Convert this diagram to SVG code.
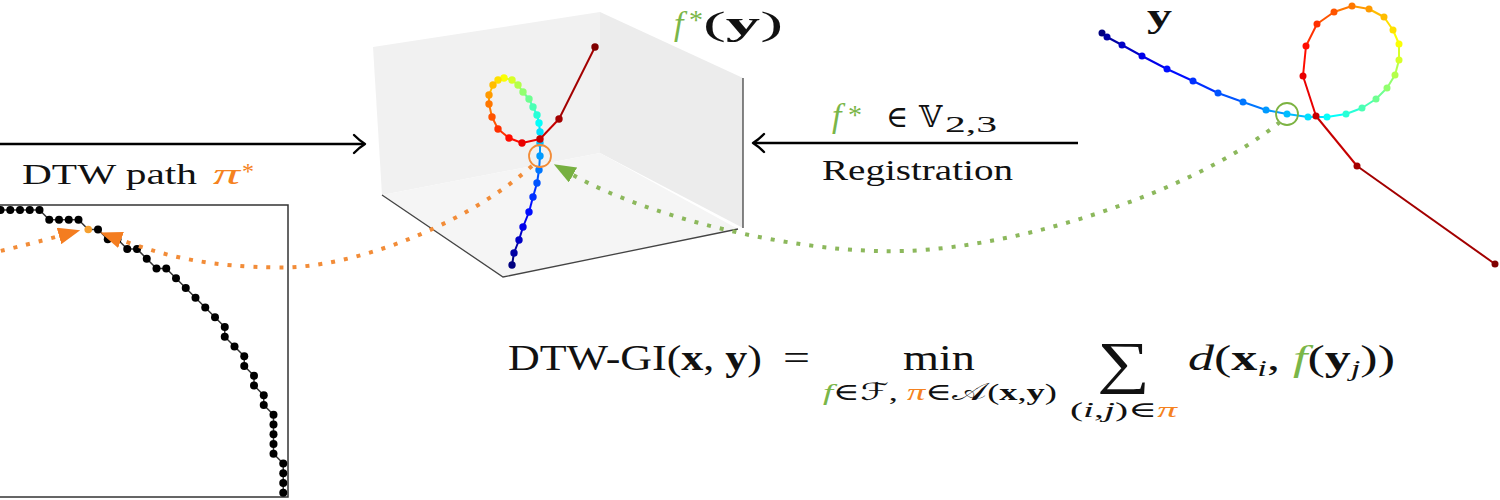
<svg xmlns="http://www.w3.org/2000/svg" width="1500" height="500" viewBox="0 0 1500 500">
<defs>
<style>
text{font-family:"Liberation Serif","DejaVu Serif","DejaVu Sans",serif;fill:#111}
.g{fill:#7ab648}
.o{fill:#f58220}
.it{font-style:italic}
.b{font-weight:bold}
.arr{stroke:#000;stroke-width:2.6;fill:none}
.head{stroke:#000;stroke-width:2.4;fill:none;stroke-linecap:round;stroke-linejoin:round}
.dotO{stroke:#f28c38;stroke-width:4;stroke-dasharray:4 9;fill:none}
.dotG{stroke:#8cb85c;stroke-width:4;stroke-dasharray:4 9;fill:none}
.seg{stroke-width:2;fill:none}
.bd{fill:#000}
.axis{stroke:#444;stroke-width:1.3;fill:none}
</style>
<marker id="ahO" markerUnits="userSpaceOnUse" viewBox="0 0 22 17" markerWidth="22" markerHeight="17" refX="0" refY="8.5" orient="auto"><path d="M0,0 L22,8.5 L0,17 Z" fill="#f47d20"/></marker>
<marker id="ahG" markerUnits="userSpaceOnUse" viewBox="0 0 22 17" markerWidth="22" markerHeight="17" refX="0" refY="8.5" orient="auto"><path d="M0,0 L22,8.5 L0,17 Z" fill="#77b041"/></marker>
</defs>

<g id="box3d">
<polygon points="373,47 600,12 600,153 382,195" fill="#f1f1f1"/>
<polygon points="600,12 743,78 743,228 600,153" fill="#ececec"/>
<polygon points="382,195 600,153 738,229 503,277" fill="#f5f5f5"/>
<polyline class="axis" points="382,195 503,277 738,229"/>
<line class="axis" x1="743" y1="78" x2="743" y2="228"/>
<g id="curve3d">
<line class="seg" x1="512" y1="265" x2="514" y2="253" stroke="#000080"/>
<line class="seg" x1="514" y1="253" x2="519" y2="240" stroke="#0000a3"/>
<line class="seg" x1="519" y1="240" x2="523" y2="227" stroke="#0000c6"/>
<line class="seg" x1="523" y1="227" x2="529" y2="212" stroke="#0000e9"/>
<line class="seg" x1="529" y1="212" x2="533" y2="197" stroke="#000dff"/>
<line class="seg" x1="533" y1="197" x2="537" y2="183" stroke="#0030ff"/>
<line class="seg" x1="537" y1="183" x2="539" y2="170" stroke="#0054ff"/>
<line class="seg" x1="539" y1="170" x2="540" y2="156" stroke="#0077ff"/>
<line class="seg" x1="540" y1="156" x2="540" y2="143" stroke="#009aff"/>
<line class="seg" x1="540" y1="143" x2="540" y2="132" stroke="#00bdff"/>
<line class="seg" x1="540" y1="132" x2="539" y2="123" stroke="#00e0ff"/>
<line class="seg" x1="539" y1="123" x2="537" y2="115" stroke="#04fffb"/>
<line class="seg" x1="537" y1="115" x2="533" y2="107" stroke="#28ffd7"/>
<line class="seg" x1="533" y1="107" x2="529" y2="99" stroke="#4bffb4"/>
<line class="seg" x1="529" y1="99" x2="523" y2="92" stroke="#6eff91"/>
<line class="seg" x1="523" y1="92" x2="518" y2="85" stroke="#91ff6e"/>
<line class="seg" x1="518" y1="85" x2="512" y2="80" stroke="#b4ff4b"/>
<line class="seg" x1="512" y1="80" x2="504" y2="78" stroke="#d7ff28"/>
<line class="seg" x1="504" y1="78" x2="498" y2="80" stroke="#fbff04"/>
<line class="seg" x1="498" y1="80" x2="493" y2="85" stroke="#ffe000"/>
<line class="seg" x1="493" y1="85" x2="489" y2="95" stroke="#ffbd00"/>
<line class="seg" x1="489" y1="95" x2="489" y2="104" stroke="#ff9a00"/>
<line class="seg" x1="489" y1="104" x2="492" y2="117" stroke="#ff7700"/>
<line class="seg" x1="492" y1="117" x2="498" y2="129" stroke="#ff5400"/>
<line class="seg" x1="498" y1="129" x2="509" y2="138" stroke="#ff3000"/>
<line class="seg" x1="509" y1="138" x2="522" y2="143" stroke="#ff0d00"/>
<line class="seg" x1="522" y1="143" x2="540" y2="139" stroke="#e90000"/>
<line class="seg" x1="540" y1="139" x2="559" y2="119" stroke="#c60000"/>
<line class="seg" x1="559" y1="119" x2="595" y2="47" stroke="#a30000"/>
<circle cx="512" cy="265" r="3.7" fill="#000080"/>
<circle cx="514" cy="253" r="3.7" fill="#0000a3"/>
<circle cx="519" cy="240" r="3.7" fill="#0000c6"/>
<circle cx="523" cy="227" r="3.7" fill="#0000e9"/>
<circle cx="529" cy="212" r="3.7" fill="#000dff"/>
<circle cx="533" cy="197" r="3.7" fill="#0030ff"/>
<circle cx="537" cy="183" r="3.7" fill="#0054ff"/>
<circle cx="539" cy="170" r="3.7" fill="#0077ff"/>
<circle cx="540" cy="156" r="3.7" fill="#009aff"/>
<circle cx="540" cy="143" r="3.7" fill="#00bdff"/>
<circle cx="540" cy="132" r="3.7" fill="#00e0ff"/>
<circle cx="539" cy="123" r="3.7" fill="#04fffb"/>
<circle cx="537" cy="115" r="3.7" fill="#28ffd7"/>
<circle cx="533" cy="107" r="3.7" fill="#4bffb4"/>
<circle cx="529" cy="99" r="3.7" fill="#6eff91"/>
<circle cx="523" cy="92" r="3.7" fill="#91ff6e"/>
<circle cx="518" cy="85" r="3.7" fill="#b4ff4b"/>
<circle cx="512" cy="80" r="3.7" fill="#d7ff28"/>
<circle cx="504" cy="78" r="3.7" fill="#fbff04"/>
<circle cx="498" cy="80" r="3.7" fill="#ffe000"/>
<circle cx="493" cy="85" r="3.7" fill="#ffbd00"/>
<circle cx="489" cy="95" r="3.7" fill="#ff9a00"/>
<circle cx="489" cy="104" r="3.7" fill="#ff7700"/>
<circle cx="492" cy="117" r="3.7" fill="#ff5400"/>
<circle cx="498" cy="129" r="3.7" fill="#ff3000"/>
<circle cx="509" cy="138" r="3.7" fill="#ff0d00"/>
<circle cx="522" cy="143" r="3.7" fill="#e90000"/>
<circle cx="540" cy="139" r="3.7" fill="#c60000"/>
<circle cx="559" cy="119" r="3.7" fill="#a30000"/>
<circle cx="595" cy="47" r="3.7" fill="#800000"/>
</g>
<circle cx="540" cy="156" r="11" fill="none" stroke="#f28c38" stroke-width="1.8"/>
</g>

<g id="curve-y">
<line class="seg" x1="1102" y1="33" x2="1107" y2="37" stroke="#000080"/>
<line class="seg" x1="1107" y1="37" x2="1122" y2="45" stroke="#0000a3"/>
<line class="seg" x1="1122" y1="45" x2="1142" y2="56" stroke="#0000c6"/>
<line class="seg" x1="1142" y1="56" x2="1167" y2="69" stroke="#0000e9"/>
<line class="seg" x1="1167" y1="69" x2="1193" y2="81" stroke="#000dff"/>
<line class="seg" x1="1193" y1="81" x2="1218" y2="93" stroke="#0030ff"/>
<line class="seg" x1="1218" y1="93" x2="1243" y2="102" stroke="#0054ff"/>
<line class="seg" x1="1243" y1="102" x2="1266" y2="110" stroke="#0077ff"/>
<line class="seg" x1="1266" y1="110" x2="1287" y2="114" stroke="#009aff"/>
<line class="seg" x1="1287" y1="114" x2="1308" y2="117" stroke="#00bdff"/>
<line class="seg" x1="1308" y1="117" x2="1327" y2="117" stroke="#00e0ff"/>
<line class="seg" x1="1327" y1="117" x2="1346" y2="114" stroke="#04fffb"/>
<line class="seg" x1="1346" y1="114" x2="1362" y2="108" stroke="#28ffd7"/>
<line class="seg" x1="1362" y1="108" x2="1376" y2="99" stroke="#4bffb4"/>
<line class="seg" x1="1376" y1="99" x2="1387" y2="88" stroke="#6eff91"/>
<line class="seg" x1="1387" y1="88" x2="1395" y2="75" stroke="#91ff6e"/>
<line class="seg" x1="1395" y1="75" x2="1399" y2="60" stroke="#b4ff4b"/>
<line class="seg" x1="1399" y1="60" x2="1399" y2="44" stroke="#d7ff28"/>
<line class="seg" x1="1399" y1="44" x2="1393" y2="30" stroke="#fbff04"/>
<line class="seg" x1="1393" y1="30" x2="1384" y2="17" stroke="#ffe000"/>
<line class="seg" x1="1384" y1="17" x2="1369" y2="9" stroke="#ffbd00"/>
<line class="seg" x1="1369" y1="9" x2="1352" y2="6" stroke="#ff9a00"/>
<line class="seg" x1="1352" y1="6" x2="1334" y2="12" stroke="#ff7700"/>
<line class="seg" x1="1334" y1="12" x2="1317" y2="24" stroke="#ff5400"/>
<line class="seg" x1="1317" y1="24" x2="1306" y2="46" stroke="#ff3000"/>
<line class="seg" x1="1306" y1="46" x2="1303" y2="76" stroke="#ff0d00"/>
<line class="seg" x1="1303" y1="76" x2="1316" y2="116" stroke="#e90000"/>
<line class="seg" x1="1316" y1="116" x2="1357" y2="166" stroke="#c60000"/>
<line class="seg" x1="1357" y1="166" x2="1495" y2="264" stroke="#a30000"/>
<circle cx="1102" cy="33" r="3.5" fill="#000080"/>
<circle cx="1107" cy="37" r="3.5" fill="#0000a3"/>
<circle cx="1122" cy="45" r="3.5" fill="#0000c6"/>
<circle cx="1142" cy="56" r="3.5" fill="#0000e9"/>
<circle cx="1167" cy="69" r="3.5" fill="#000dff"/>
<circle cx="1193" cy="81" r="3.5" fill="#0030ff"/>
<circle cx="1218" cy="93" r="3.5" fill="#0054ff"/>
<circle cx="1243" cy="102" r="3.5" fill="#0077ff"/>
<circle cx="1266" cy="110" r="3.5" fill="#009aff"/>
<circle cx="1287" cy="114" r="3.5" fill="#00bdff"/>
<circle cx="1308" cy="117" r="3.5" fill="#00e0ff"/>
<circle cx="1327" cy="117" r="3.5" fill="#04fffb"/>
<circle cx="1346" cy="114" r="3.5" fill="#28ffd7"/>
<circle cx="1362" cy="108" r="3.5" fill="#4bffb4"/>
<circle cx="1376" cy="99" r="3.5" fill="#6eff91"/>
<circle cx="1387" cy="88" r="3.5" fill="#91ff6e"/>
<circle cx="1395" cy="75" r="3.5" fill="#b4ff4b"/>
<circle cx="1399" cy="60" r="3.5" fill="#d7ff28"/>
<circle cx="1399" cy="44" r="3.5" fill="#fbff04"/>
<circle cx="1393" cy="30" r="3.5" fill="#ffe000"/>
<circle cx="1384" cy="17" r="3.5" fill="#ffbd00"/>
<circle cx="1369" cy="9" r="3.5" fill="#ff9a00"/>
<circle cx="1352" cy="6" r="3.5" fill="#ff7700"/>
<circle cx="1334" cy="12" r="3.5" fill="#ff5400"/>
<circle cx="1317" cy="24" r="3.5" fill="#ff3000"/>
<circle cx="1306" cy="46" r="3.5" fill="#ff0d00"/>
<circle cx="1303" cy="76" r="3.5" fill="#e90000"/>
<circle cx="1316" cy="116" r="3.5" fill="#c60000"/>
<circle cx="1357" cy="166" r="3.5" fill="#a30000"/>
<circle cx="1495" cy="264" r="3.5" fill="#800000"/>
<circle cx="1287" cy="114" r="11" fill="none" stroke="#7cb342" stroke-width="1.8"/>
</g>

<g id="dtw-path">
<rect x="-2" y="205" width="290" height="292" fill="none" stroke="#333" stroke-width="1.5"/>
<polyline fill="none" stroke="#333" stroke-width="1.5" points="0.5,210 10.25,210 20,210 29.75,210 39.5,210 49.25,219.75 59,219.75 68.75,219.75 78.5,219.75 88.25,229.5 98,229.5 107.75,239.25 117.5,239.25 127.25,249 137,249 146.75,258.75 156.5,268.5 166.25,268.5 176,278.25 185.75,288 195.5,297.75 205.25,307.5 215,317.25 224.75,327 224.75,336.75 234.5,346.5 244.25,356.25 244.25,366 254,375.75 254,385.5 263.75,395.25 263.75,405 273.5,414.75 273.5,424.5 273.5,434.25 273.5,444 273.5,453.75 283.25,463.5 283.25,473.25 283.25,483 283.25,492.75"/>
<g class="bd">
<circle cx="0.5" cy="210" r="4"/><circle cx="10.25" cy="210" r="4"/><circle cx="20" cy="210" r="4"/><circle cx="29.75" cy="210" r="4"/><circle cx="39.5" cy="210" r="4"/>
<circle cx="49.25" cy="219.75" r="4"/><circle cx="59" cy="219.75" r="4"/><circle cx="68.75" cy="219.75" r="4"/><circle cx="78.5" cy="219.75" r="4"/>
<circle cx="98" cy="229.5" r="4"/><circle cx="107.75" cy="239.25" r="4"/><circle cx="117.5" cy="239.25" r="4"/>
<circle cx="127.25" cy="249" r="4"/><circle cx="137" cy="249" r="4"/><circle cx="146.75" cy="258.75" r="4"/>
<circle cx="156.5" cy="268.5" r="4"/><circle cx="166.25" cy="268.5" r="4"/><circle cx="176" cy="278.25" r="4"/>
<circle cx="185.75" cy="288" r="4"/><circle cx="195.5" cy="297.75" r="4"/><circle cx="205.25" cy="307.5" r="4"/>
<circle cx="215" cy="317.25" r="4"/><circle cx="224.75" cy="327" r="4"/><circle cx="224.75" cy="336.75" r="4"/>
<circle cx="234.5" cy="346.5" r="4"/><circle cx="244.25" cy="356.25" r="4"/><circle cx="244.25" cy="366" r="4"/>
<circle cx="254" cy="375.75" r="4"/><circle cx="254" cy="385.5" r="4"/><circle cx="263.75" cy="395.25" r="4"/>
<circle cx="263.75" cy="405" r="4"/><circle cx="273.5" cy="414.75" r="4"/><circle cx="273.5" cy="424.5" r="4"/>
<circle cx="273.5" cy="434.25" r="4"/><circle cx="273.5" cy="444" r="4"/><circle cx="273.5" cy="453.75" r="4"/>
<circle cx="283.25" cy="463.5" r="4"/><circle cx="283.25" cy="473.25" r="4"/><circle cx="283.25" cy="483" r="4"/><circle cx="283.25" cy="492.75" r="4"/>
</g>
<circle cx="88.25" cy="229.5" r="3.8" fill="#f5a030"/>
</g>

<g id="connectors">
<line class="arr" x1="0" y1="144" x2="364" y2="144"/>
<path class="head" d="M354,135 Q360,141 365,144 Q360,147 354,153"/>
<line class="arr" x1="754" y1="143" x2="1078" y2="143"/>
<path class="head" d="M764,134 Q758,140 753,143 Q758,146 764,152"/>
<path class="dotO" d="M-12,254 Q30,244 59,236" marker-end="url(#ahO)"/>
<path class="dotO" d="M532,166 C462,228 350,268 280,267.5 C210,267 168,257 121,240" marker-end="url(#ahO)"/>
<path class="dotG" d="M1280,122 C1190,195 1000,255 880,251 C790,250 650,218 573,175" marker-end="url(#ahG)"/>
</g>

<g id="labels">
<text x="22" y="184" font-size="30" textLength="175" lengthAdjust="spacingAndGlyphs">DTW path</text>
<text x="213" y="184" font-size="30" class="o it" textLength="27" lengthAdjust="spacingAndGlyphs">π</text>
<text x="242" y="179" font-size="24" class="o">*</text>
<text x="832" y="127" font-size="34" class="g it">f</text>
<text x="848" y="124" font-size="28" class="g">*</text>
<text x="886" y="127" font-size="30">∈</text>
<text x="919" y="127" font-size="30">𝕍</text>
<text x="945" y="132" font-size="24" textLength="52" lengthAdjust="spacingAndGlyphs">2,3</text>
<text x="822" y="180" font-size="30" textLength="191" lengthAdjust="spacingAndGlyphs">Registration</text>
<text x="674" y="35" font-size="34" class="g it">f</text>
<text x="689" y="29" font-size="28" class="g">*</text>
<text x="703" y="35" font-size="34" textLength="80" lengthAdjust="spacingAndGlyphs">(<tspan class="b">y</tspan>)</text>
<text x="1147" y="27" font-size="34" class="b" textLength="25" lengthAdjust="spacingAndGlyphs">y</text>
</g>

<g id="formula">
<text x="508" y="370" font-size="36" textLength="254" lengthAdjust="spacingAndGlyphs">DTW-GI(<tspan class="b">x</tspan>, <tspan class="b">y</tspan>)</text>
<text x="783" y="370" font-size="36" textLength="27" lengthAdjust="spacingAndGlyphs">=</text>
<text x="903" y="370" font-size="36" textLength="72" lengthAdjust="spacingAndGlyphs">min</text>
<text x="823" y="400" font-size="24" textLength="234" lengthAdjust="spacingAndGlyphs"><tspan class="g it">f</tspan>∈ℱ, <tspan class="o it">π</tspan>∈𝒜(<tspan class="b">x</tspan>,<tspan class="b">y</tspan>)</text>
<text x="1097" y="382" font-size="58" textLength="53" lengthAdjust="spacingAndGlyphs">∑</text>
<text x="1070" y="417" font-size="22" textLength="107" lengthAdjust="spacingAndGlyphs">(<tspan class="it">i</tspan>,<tspan class="it">j</tspan>)∈<tspan class="o it">π</tspan></text>
<text x="1188" y="370" font-size="36" textLength="207" lengthAdjust="spacingAndGlyphs"><tspan class="it">d</tspan>(<tspan class="b">x</tspan><tspan class="it" font-size="24" dy="6">i</tspan><tspan dy="-6">, </tspan><tspan class="g it">f</tspan>(<tspan class="b">y</tspan><tspan class="it" font-size="24" dy="6">j</tspan><tspan dy="-6">))</tspan></text>
</g>
</svg>
